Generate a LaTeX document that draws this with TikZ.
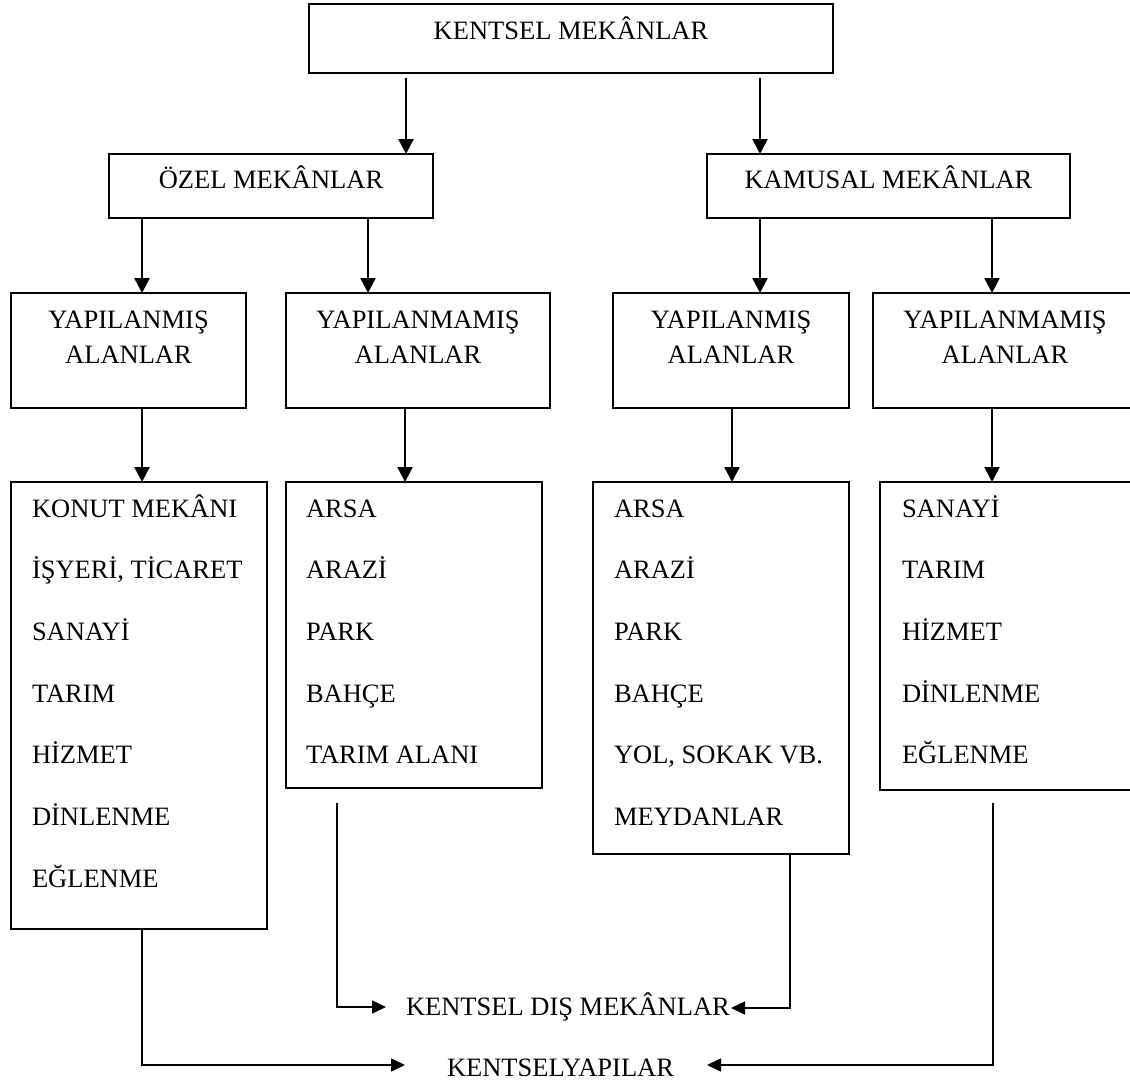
\documentclass[tikz,border=0pt]{standalone}
\usepackage{fontspec}
\setmainfont{Liberation Serif}
\usetikzlibrary{arrows.meta}
\begin{document}
\begin{tikzpicture}[x=1pt,y=-1pt,
  box/.style={draw,line width=2pt,inner sep=0pt,outer sep=0pt,rectangle},
  txt/.style={inner sep=0pt,outer sep=0pt,font=\fontsize{26.5}{30}\selectfont},
  arr/.style={line width=2.5pt,-{Triangle[length=15pt,width=15pt]}},
  lnk/.style={line width=1.6pt,-{Triangle[length=14pt,width=13pt]}}]
\useasboundingbox (0,0) rectangle (1130,1082);
\fill[white] (0,0) rectangle (1130,1082);
\clip (0,0) rectangle (1130,1082);

% boxes
\node[box,minimum width=524pt,minimum height=69pt] (top) at (571,38.5) {};
\node[box,minimum width=324pt,minimum height=64pt] (ozel) at (271,186) {};
\node[box,minimum width=363pt,minimum height=64pt] (kam) at (888.5,186) {};
\node[box,minimum width=235pt,minimum height=115pt] (oy) at (128.5,350.5) {};
\node[box,minimum width=264pt,minimum height=115pt] (oym) at (418,350.5) {};
\node[box,minimum width=236pt,minimum height=115pt] (ky) at (731,350.5) {};
\node[box,minimum width=264pt,minimum height=115pt] (kym) at (1005,350.5) {};
\node[box,minimum width=256pt,minimum height=447pt] (ol1) at (139,705.5) {};
\node[box,minimum width=256pt,minimum height=306pt] (ol2) at (414,635) {};
\node[box,minimum width=256pt,minimum height=372pt] (kl1) at (721,668) {};
\node[box,minimum width=260pt,minimum height=308pt] (kl2) at (1010,636) {};

% texts
\node[txt,anchor=base] (ttop) at (571,39) {KENTSEL MEKÂNLAR};
\node[txt,anchor=base] (tozel) at (271,188) {ÖZEL MEKÂNLAR};
\node[txt,anchor=base] (tkam) at (888.5,188) {KAMUSAL MEKÂNLAR};
\node[txt,anchor=base] (toy1) at (128.5,328) {YAPILANMIŞ};
\node[txt,anchor=base] (toy2) at (128.5,363) {ALANLAR};
\node[txt,anchor=base] (toym1) at (418,328) {YAPILANMAMIŞ};
\node[txt,anchor=base] (toym2) at (418,363) {ALANLAR};
\node[txt,anchor=base] (tky1) at (731,328) {YAPILANMIŞ};
\node[txt,anchor=base] (tky2) at (731,363) {ALANLAR};
\node[txt,anchor=base] (tkym1) at (1005,328) {YAPILANMAMIŞ};
\node[txt,anchor=base] (tkym2) at (1005,363) {ALANLAR};

\foreach \t [count=\i] in {KONUT MEKÂNI,{İŞYERİ, TİCARET},SANAYİ,TARIM,HİZMET,DİNLENME,EĞLENME}
  \node[txt,anchor=base west] (a\i) at (32,{517+61.7*(\i-1)}) {\t};
\foreach \t [count=\i] in {ARSA,ARAZİ,PARK,BAHÇE,TARIM ALANI}
  \node[txt,anchor=base west] (b\i) at (306,{517+61.7*(\i-1)}) {\t};
\foreach \t [count=\i] in {ARSA,ARAZİ,PARK,BAHÇE,{YOL, SOKAK VB.},MEYDANLAR}
  \node[txt,anchor=base west] (c\i) at (614,{517+61.7*(\i-1)}) {\t};
\foreach \t [count=\i] in {SANAYİ,TARIM,HİZMET,DİNLENME,EĞLENME}
  \node[txt,anchor=base west] (d\i) at (902,{517+61.7*(\i-1)}) {\t};

\node[txt,anchor=base west] (dis) at (406,1015) {KENTSEL DIŞ MEKÂNLAR};
\node[txt,anchor=base west] (yap) at (447,1076) {KENTSELYAPILAR};

% arrows, upper part
\draw[arr] ([xshift=-165pt,yshift=-5pt]top.south) coordinate (s1) -- (s1 |- ozel.north);
\draw[arr] ([xshift=189pt,yshift=-5pt]top.south) coordinate (s2) -- (s2 |- kam.north);
\draw[arr] ([xshift=-129pt]ozel.south) coordinate (s3) -- (s3 |- oy.north);
\draw[arr] ([xshift=97pt]ozel.south) coordinate (s4) -- (s4 |- oym.north);
\draw[arr] ([xshift=-128.5pt]kam.south) coordinate (s5) -- (s5 |- ky.north);
\draw[arr] ([xshift=103.5pt]kam.south) coordinate (s6) -- (s6 |- kym.north);
\draw[arr] ([xshift=13.5pt]oy.south) coordinate (s7) -- (s7 |- ol1.north);
\draw[arr] ([xshift=-13pt]oym.south) coordinate (s8) -- (s8 |- ol2.north);
\draw[arr] ([xshift=1pt]ky.south) coordinate (s9) -- (s9 |- kl1.north);
\draw[arr] ([xshift=-13pt]kym.south) coordinate (s10) -- (s10 |- kl2.north);

% lower connectors
\coordinate (e1) at (386,1007);
\coordinate (e2) at (731,1008);
\coordinate (e3) at (405,1065);
\coordinate (e4) at (707,1065);
\draw[lnk] ([xshift=-77pt,yshift=-15pt]ol2.south) |- (e1);
\draw[lnk] ([xshift=69pt]kl1.south) |- (e2);
\draw[lnk] ([xshift=3pt]ol1.south) |- (e3);
\draw[lnk] ([xshift=-17pt,yshift=-13pt]kl2.south) |- (e4);
\end{tikzpicture}
\end{document}
